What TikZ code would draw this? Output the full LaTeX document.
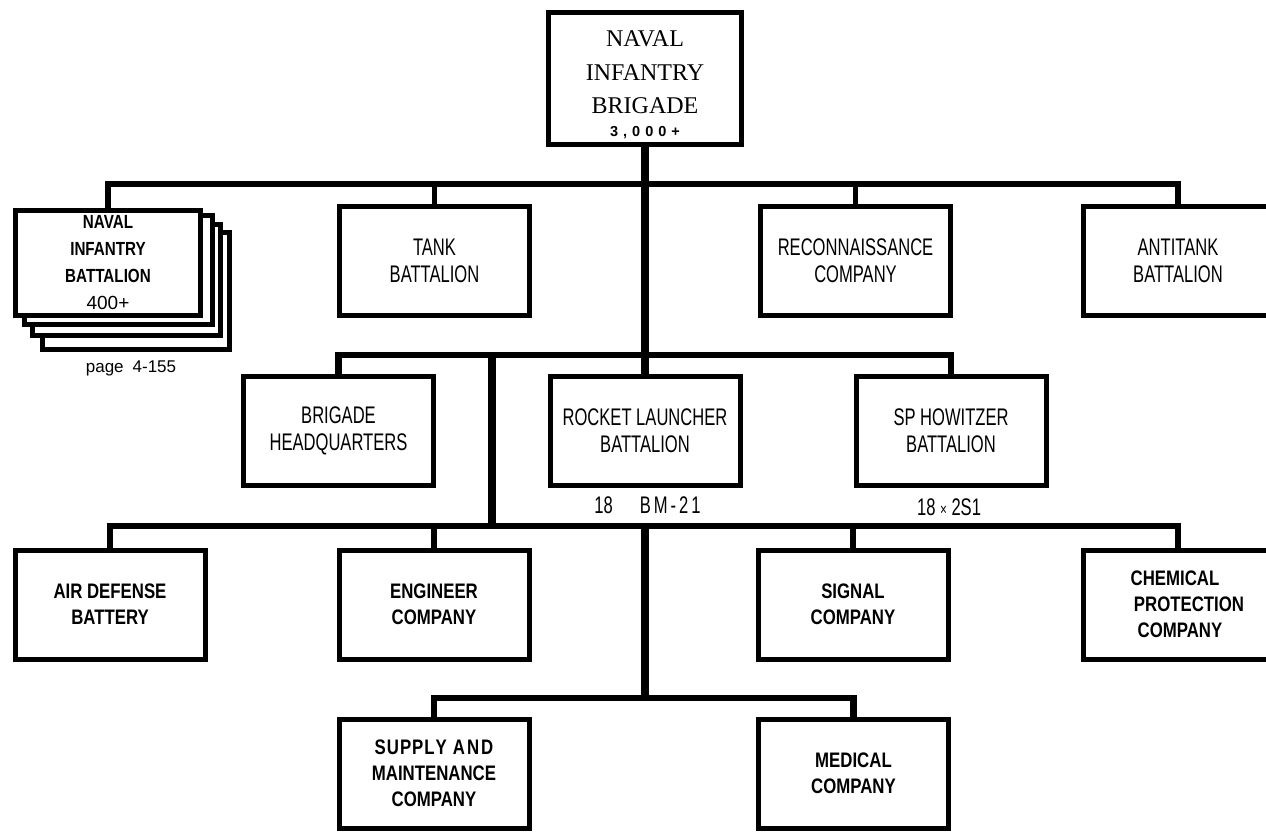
\documentclass[tikz,border=0pt]{standalone}
\usepackage{fontspec}
\setmainfont{Liberation Serif}
\setsansfont{Liberation Sans}
\newfontfamily\condfont[FakeStretch=0.69]{Liberation Sans}
\newfontfamily\bcondfont[FakeStretch=0.8]{Liberation Sans}
\tikzset{
  unit/.style={draw, line width=5pt, fill=white, minimum width=190pt, minimum height=109pt, inner sep=0pt, align=center},
  regtxt/.style={font=\condfont\fontsize{24}{27}\selectfont},
  boldtxt/.style={font=\bcondfont\bfseries\fontsize{21}{26}\selectfont},
  bar/.style={line width=6.5pt, line join=miter},
  stem/.style={line width=5.5pt},
  trunk/.style={line width=8pt},
  note/.style={font=\condfont\fontsize{24}{27}\selectfont, inner sep=0pt},
}
\begin{document}
\begin{tikzpicture}[x=1pt,y=-1pt]
\useasboundingbox (0,0) rectangle (1266,832);
\fill[white] (0,0) rectangle (1266,832);

% junction coordinates on the trunk
\coordinate (b1) at (645,184);
\coordinate (b2) at (645,355);
\coordinate (b3) at (645,526);
\coordinate (b4) at (645,698);
\coordinate (v1top) at (492,355);
\coordinate (v1bot) at (492,526);

% top
\node[unit, minimum width=193pt, minimum height=132pt] (brigade) at (645,78.5) {};
\node[inner sep=0pt, align=center, font=\fontsize{24}{33.5}\selectfont] (brigadetxt) at (645,84.5)
  {NAVAL\\INFANTRY\\BRIGADE\\[-11pt]{\sffamily\bfseries\fontsize{14.5}{14.5}\selectfont 3\kern5pt,\kern5pt0\kern5pt0\kern5pt0\kern5pt+}};

% row 1
\node[unit, minimum width=187pt, minimum height=117pt] (nib4) at (136,291) {};
\node[unit, minimum width=188pt, minimum height=111pt] (nib3) at (126.5,280) {};
\node[unit, minimum width=188pt, minimum height=109pt] (nib2) at (118.5,270) {};
\node[unit, minimum width=185pt, minimum height=105pt, font=\bcondfont\bfseries\fontsize{19}{27}\selectfont] (nib) at (108,263)
  {NAVAL\\INFANTRY\\BATTALION\\{\sffamily\mdseries 400+}};
\node[inner sep=0pt, font=\sffamily\fontsize{17}{17}\selectfont] (pagelbl) at (131,368) {page\hspace{9pt}4-155};
\node[unit, regtxt] (tank) at (434.5,260.5) {TANK\\BATTALION};
\node[unit, regtxt] (recon) at (855.5,260.5) {RECONNAISSANCE\\COMPANY};
\node[unit, regtxt] (antitank) at (1178,260.5) {ANTITANK\\BATTALION};

% row 2
\node[unit, regtxt] (bhq) at (338.5,431) {BRIGADE\\HEADQUARTERS};
\node[unit, regtxt] (rocket) at (645,431) {ROCKET LAUNCHER\\BATTALION};
\node[unit, regtxt] (sp) at (951,431) {SP HOWITZER\\BATTALION};
\node[note] (rocketlbl) at (647.5,505) {18\hspace{27pt}B\kern3pt M\kern3pt -\kern3pt 2\kern3pt 1};
\node[note] (splbl) at (949,507) {18 {\fontsize{17}{17}\selectfont×} 2S1};

% row 3
\node[unit, boldtxt] (airdef) at (110,604.5) {AIR DEFENSE\\BATTERY};
\node[unit, boldtxt] (engineer) at (434,604.5) {ENGINEER\\COMPANY};
\node[unit, boldtxt] (signal) at (853,604.5) {SIGNAL\\COMPANY};
\node[unit, boldtxt] (chem) at (1178,604.5) {\hspace*{-6pt}CHEMICAL\\\hspace*{22pt}PROTECTION\\\hspace*{4pt}COMPANY};

% row 4
\node[unit, boldtxt] (supply) at (434,773.5) {S\kern1pt U\kern1pt P\kern1pt P\kern1pt L\kern1pt Y\kern6pt A\kern2pt N\kern2pt D\\MAINTENANCE\\COMPANY};
\node[unit, boldtxt] (medical) at (853.5,773.5) {MEDICAL\\COMPANY};

% connectors
\draw[trunk] (brigade.south) -- (rocket.north);
\draw[bar] (nib.north) |- (b1) -| (antitank.north);
\draw[stem] (tank.north) -- (tank.north |- b1);
\draw[stem] (recon.north) -- (recon.north |- b1);

\draw[bar] (bhq.north) |- (b2) -| (sp.north);
\draw[trunk] (v1top) -- (v1bot);

\draw[bar] (airdef.north) |- (b3) -| (chem.north);
\draw[stem] (engineer.north) -- (engineer.north |- b3);
\draw[stem] (signal.north) -- (signal.north |- b3);
\draw[trunk] (b3) -- (b4);

\draw[bar] (supply.north) |- (b4) -| (medical.north);
\end{tikzpicture}
\end{document}
